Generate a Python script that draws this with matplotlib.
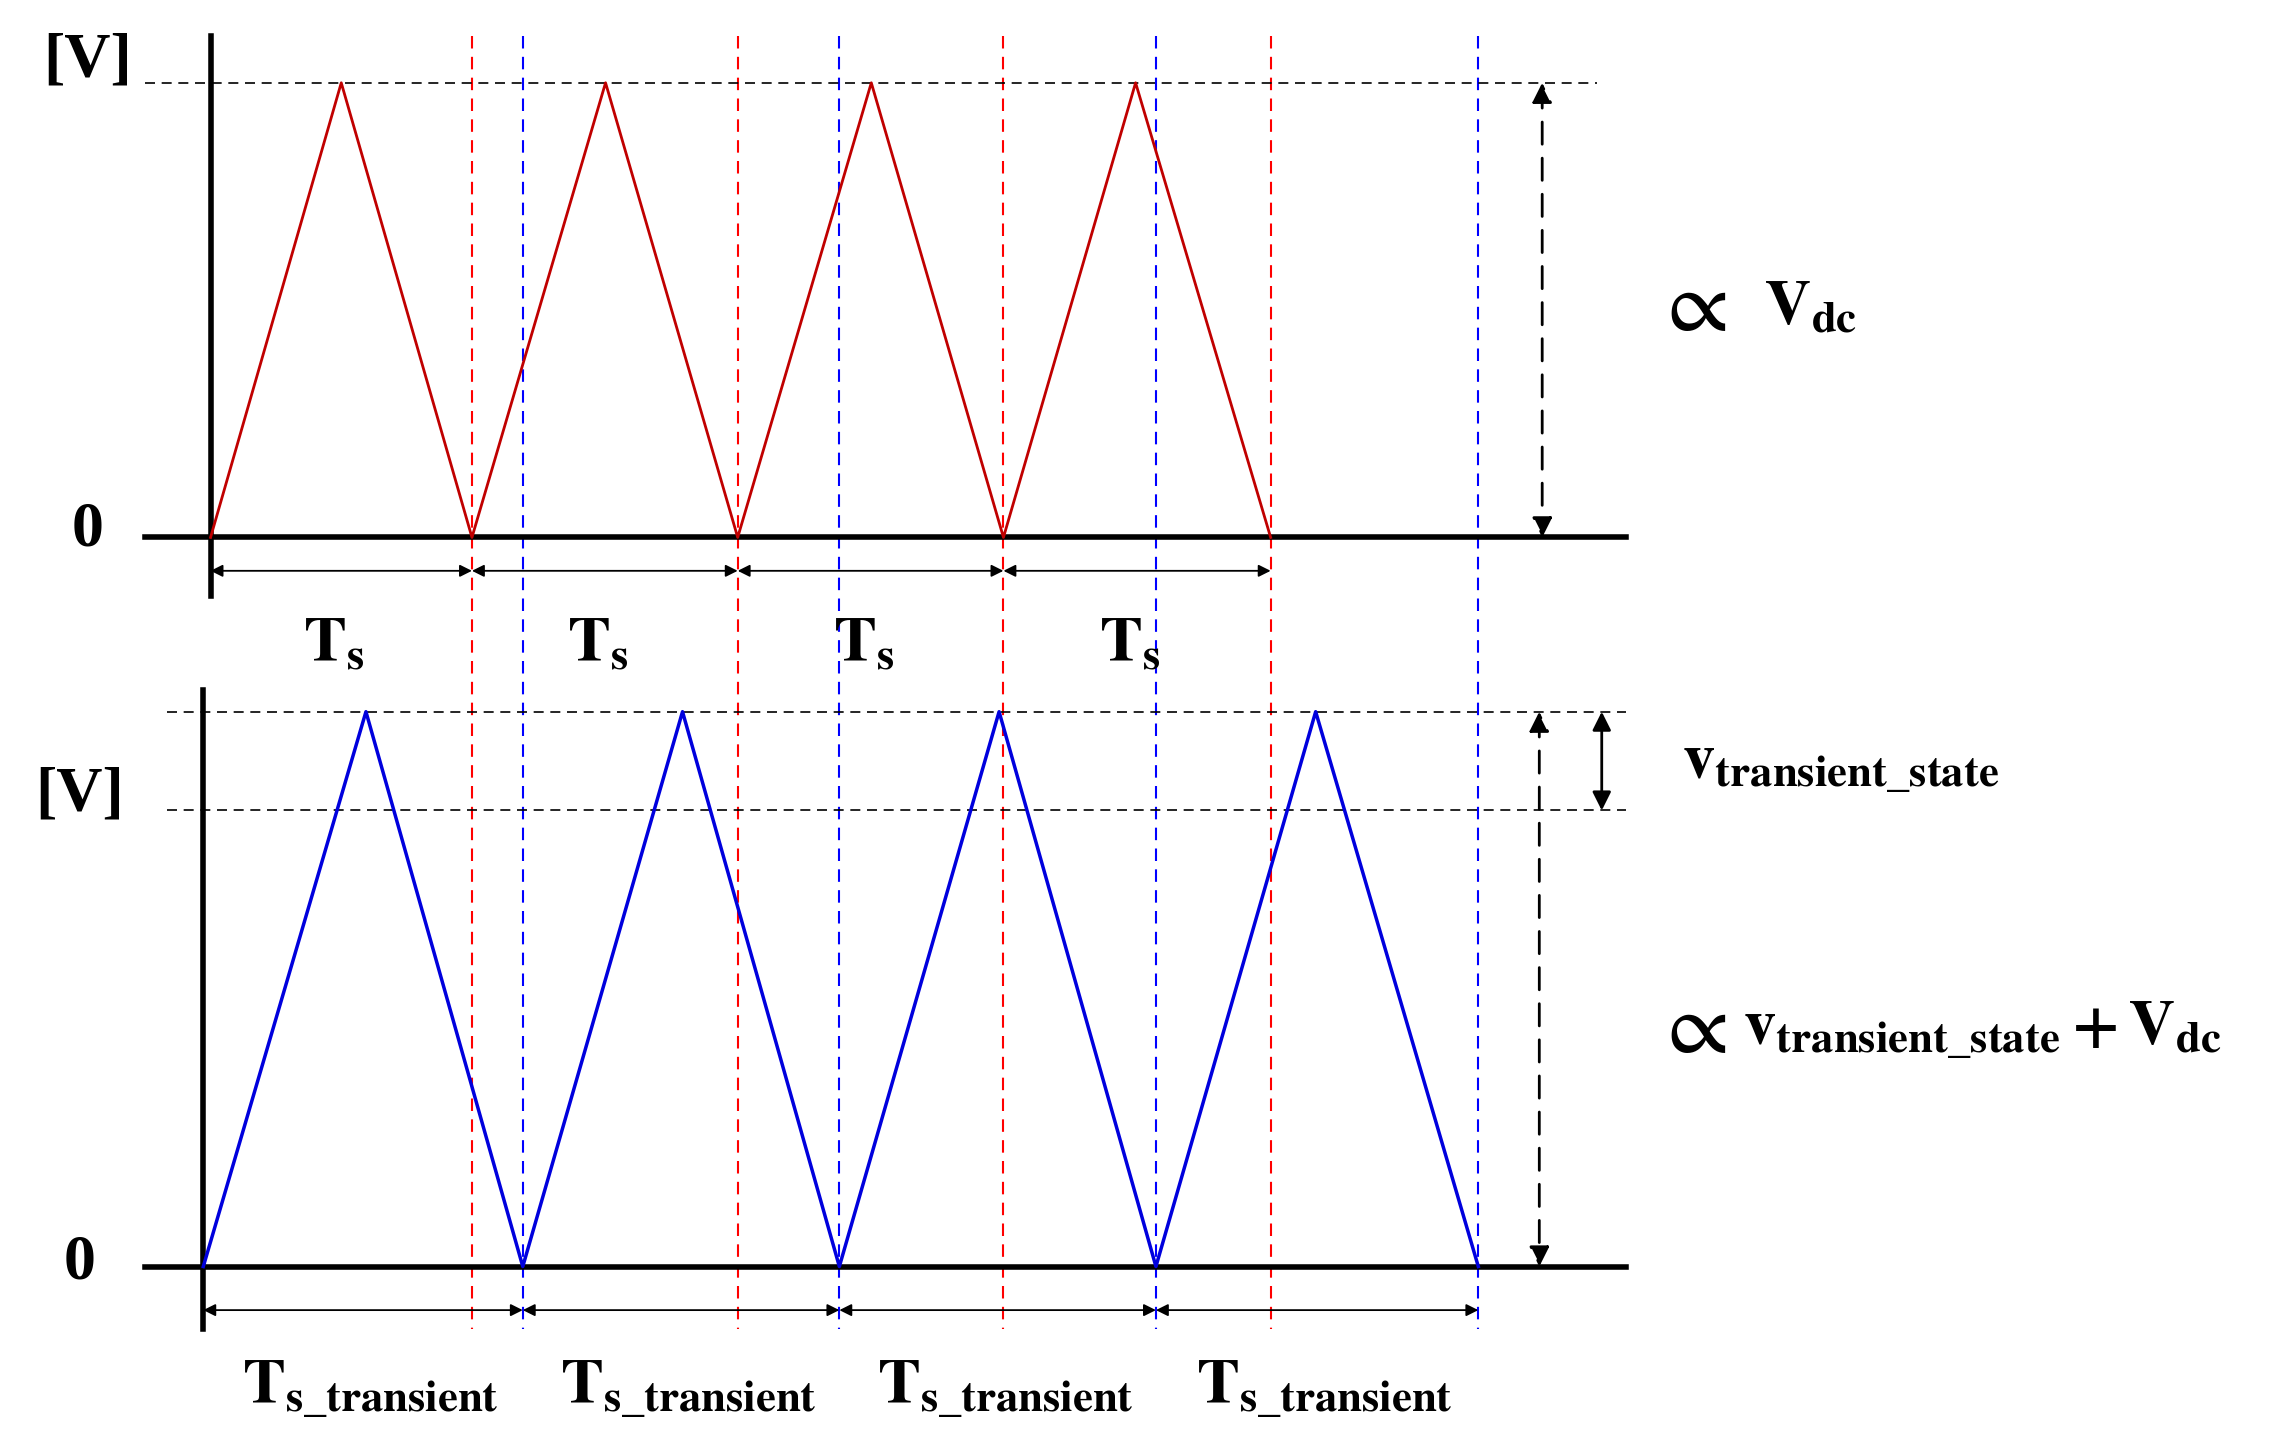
import matplotlib
matplotlib.use("Agg")
import matplotlib.pyplot as plt

plt.rcParams['mathtext.fontset'] = 'stix'
plt.rcParams['font.family'] = ['Liberation Serif', 'DejaVu Serif']

# top panel (red carrier, steady state)
top_x = [145, 235, 325, 417, 508, 600, 691, 782, 875]
top_y = [370, 57, 370, 57, 370, 57, 370, 57, 370]
# bottom panel (blue carrier, transient)
bot_x = [140, 252, 360, 470, 578, 688, 796, 906, 1018]
bot_y = [872, 490, 872, 490, 872, 490, 872, 490, 872]
red_lines = [325, 508, 691, 875]
blue_lines = [360, 578, 796, 1018]
top_periods = [145, 325, 508, 691, 875]
bot_periods = [140, 360, 578, 796, 1018]

fig = plt.figure(figsize=(22.77, 14.51), dpi=100)
ax = fig.add_axes([0, 0, 1, 1])
ax.set_xlim(0, 1568)
ax.set_ylim(999, 0)
ax.axis('off')

lw_axis = 4
for x in red_lines:
    ax.plot([x, x], [25, 915], color='red', ls=(0, (6, 4)), lw=1.5)
for x in blue_lines:
    ax.plot([x, x], [25, 915], color='blue', ls=(0, (6, 4)), lw=1.5)

ax.plot([145, 145], [25, 410], color='black', lw=lw_axis)
ax.plot([100, 1120], [370, 370], color='black', lw=lw_axis)
ax.plot([140, 140], [475, 915], color='black', lw=lw_axis)
ax.plot([100, 1120], [872, 872], color='black', lw=lw_axis)

ax.plot([100, 1100], [57, 57], color='black', ls=(0, (6, 4)), lw=1.2)
ax.plot([115, 1120], [490, 490], color='black', ls=(0, (6, 4)), lw=1.2)
ax.plot([115, 1120], [558, 558], color='black', ls=(0, (6, 4)), lw=1.2)

ax.plot(top_x, top_y, color='#c00000', lw=2)
ax.plot(bot_x, bot_y, color='#0000dd', lw=2.5)

def darrow(x0, y0, x1, y1, lw=1.3, ls='-', ms=18):
    ax.annotate('', xy=(x1, y1), xytext=(x0, y0),
                arrowprops=dict(arrowstyle='<|-|>', color='black', lw=lw, ls=ls,
                                mutation_scale=ms, shrinkA=0, shrinkB=0))

darrow(1062, 57, 1062, 370, lw=2, ls=(0, (8, 5)), ms=30)
darrow(1060, 490, 1060, 872, lw=2, ls=(0, (8, 5)), ms=30)
darrow(1103, 490, 1103, 558, lw=2, ms=28)

fs = 46
for a, b in zip(top_periods[:-1], top_periods[1:]):
    darrow(a, 393, b, 393)
    ax.text((a + b) / 2 - 5, 445, r'$\mathbf{T_s}$', fontsize=fs, ha='center', va='center')
for a, b in zip(bot_periods[:-1], bot_periods[1:]):
    darrow(a, 902, b, 902)
    ax.text((a + b) / 2 + 5, 957, r'$\mathbf{T_{s\_transient}}$', fontsize=fs, ha='center', va='center')

tk = dict(fontsize=fs, fontweight='bold', ha='center', va='center')
ax.text(60, 42, '[V]', **tk)
ax.text(60, 365, '0', **tk)
ax.text(55, 548, '[V]', **tk)
ax.text(55, 870, '0', **tk)

ax.text(1140, 213, r'$\propto$', fontsize=64, ha='left', va='center')
ax.text(1215, 213, r'$\mathbf{V_{dc}}$', fontsize=fs, ha='left', va='center')
ax.text(1158, 528, r'$\mathbf{v_{transient\_state}}$', fontsize=fs, ha='left', va='center')
ax.text(1140, 710, r'$\propto$', fontsize=64, ha='left', va='center')
ax.text(1200, 710, r'$\mathbf{v_{transient\_state}+V_{dc}}$', fontsize=fs, ha='left', va='center')

fig.savefig('out.png', dpi=100)
